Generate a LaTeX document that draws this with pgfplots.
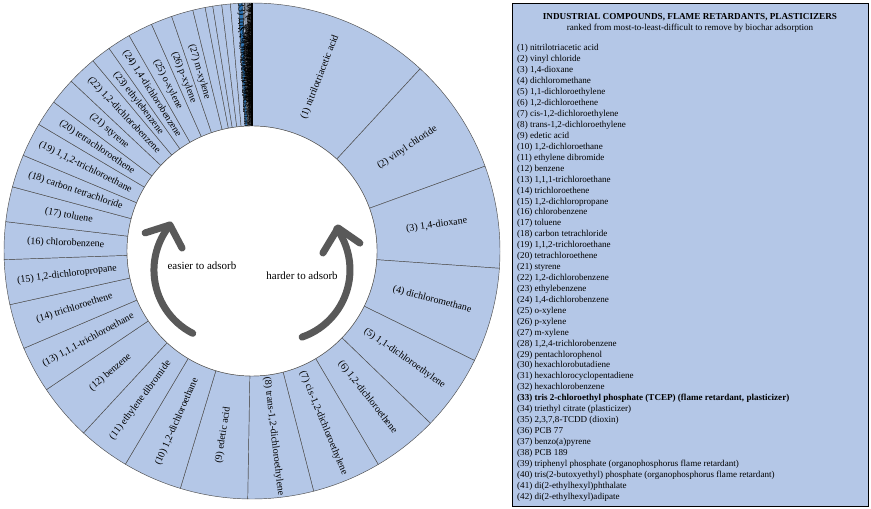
\documentclass[border=0pt]{standalone}
\usepackage{fontspec}
\setmainfont{Liberation Serif}
\usepackage{pgfplots}
\usepackage{pgfplotstable}
\pgfplotsset{compat=1.18}

\definecolor{segfill}{HTML}{B4C7E7}
\definecolor{tcepfill}{HTML}{2E75B6}
\definecolor{segedge}{HTML}{4D4D4D}
\definecolor{arrowgray}{HTML}{595959}

% share of the ring (degrees), clockwise from 12 o'clock
\pgfplotstableread[col sep=semicolon]{
share;fill;label
42.7;segfill;(1) nitrilotriacetic acid
27.3;segfill;(2) vinyl chloride
24.0;segfill;(3) 1,4-dioxane
22.2;segfill;(4) dichloromethane
17.8;segfill;(5) 1,1-dichloroethylene
15.4;segfill;(6) 1,2-dichloroethene
16.2;segfill;(7) cis-1,2-dichloroethylene
15.4;segfill;(8) trans-1,2-dichloroethylene
15.8;segfill;(9) edetic acid
13.9;segfill;(10) 1,2-dichloroethane
12.1;segfill;(11) ethylene dibromide
13.2;segfill;(12) benzene
10.9;segfill;(13) 1,1,1-trichloroethane
10.6;segfill;(14) trichloroethene
10.5;segfill;(15) 1,2-dichloropropane
8.8;segfill;(16) chlorobenzene
8.2;segfill;(17) toluene
7.7;segfill;(18) carbon tetrachloride
8.0;segfill;(19) 1,1,2-trichloroethane
6.2;segfill;(20) tetrachloroethene
6.3;segfill;(21) styrene
6.9;segfill;(22) 1,2-dichlorobenzene
4.7;segfill;(23) ethylebenzene
5.5;segfill;(24) 1,4-dichlorobenzene
5.8;segfill;(25) o-xylene
5.0;segfill;(26) p-xylene
5.1;segfill;(27) m-xylene
2.9;segfill;(28) 1,2,4-trichlorobenzene
1.8;segfill;(29) pentachlorophenol
2.1;segfill;(30) hexachlorobutadiene
2.0;segfill;(31) hexachlorocyclopentadiene
1.9;segfill;(32) hexachlorobenzene
1.0;tcepfill;(33) tris 2-chloroethyl phosphate
0.35;segfill;(34) triethyl citrate
0.3;segfill;(35) 2,3,7,8-TCDD
0.3;segfill;(36) PCB 77
0.25;segfill;(37) benzo(a)pyrene
0.2;segfill;(38) PCB 189
0.2;segfill;(39) triphenyl phosphate
0.2;segfill;(40) tris(2-butoxyethyl) phosphate
0.15;segfill;(41) di(2-ethylhexyl)phthalate
0.15;segfill;(42) di(2-ethylhexyl)adipate
}\rankdata

\newcommand\ringfont{\fontsize{10}{12}\selectfont}
\newcommand\legfont{\fontsize{9.1}{11}\selectfont}

\pgfplotstablegetrowsof{\rankdata}
\pgfmathtruncatemacro\lastrow{\pgfplotsretval-1}

% label of row #1, centred in its wedge, reading along the radius
\newcommand\ringlabel[1]{%
  \pgfplotstablegetelem{#1}{share}\of\rankdata \let\segshare\pgfplotsretval
  \pgfplotstablegetelem{#1}{label}\of\rankdata \let\segname\pgfplotsretval
  \pgfmathsetmacro\midcw{\cumang+\segshare/2}
  \pgfmathsetmacro\mA{90-\midcw}
  \pgfmathsetmacro\rot{\midcw<180 ? \mA : \mA+180}
  \pgfmathsetmacro\nextang{\cumang+\segshare}
  \xdef\cumang{\nextang}
  \edef\temp{\noexpand\node[rotate=\rot, font=\noexpand\ringfont, inner sep=0pt]
    at (axis cs:{0.752*cos(\mA)},{0.752*sin(\mA)}) {\segname};}%
  \temp
}

\begin{document}
\begin{tikzpicture}
\path[use as bounding box] (0,0) rectangle (871bp,509bp);

\begin{axis}[
    at={(252bp,258bp)}, anchor=center,
    scale only axis, width=496bp, height=496bp,
    xmin=-1, xmax=1, ymin=-1, ymax=1,
    hide axis, clip=false
  ]
  % wedges
  \gdef\cumang{0}
  \pgfplotsforeachungrouped \i in {0,...,\lastrow}{%
    \pgfplotstablegetelem{\i}{share}\of\rankdata \let\segshare\pgfplotsretval
    \pgfplotstablegetelem{\i}{fill}\of\rankdata \let\segcol\pgfplotsretval
    \pgfmathsetmacro\sA{90-\cumang}
    \pgfmathsetmacro\sB{90-\cumang-\segshare}
    \pgfmathsetmacro\nextang{\cumang+\segshare}
    \xdef\cumang{\nextang}
    \edef\temp{\noexpand\filldraw[fill=\segcol, draw=segedge, line width=0.45bp]
      (axis cs:{cos(\sA)},{sin(\sA)}) arc[start angle=\sA, end angle=\sB, radius=248bp]
      -- (axis cs:{0.504*cos(\sB)},{0.504*sin(\sB)})
      arc[start angle=\sB, end angle=\sA, radius=125bp] -- cycle;}%
    \temp
  }
  % labels of the wide wedges
  \gdef\cumang{0}
  \pgfplotsforeachungrouped \i in {0,...,26}{\ringlabel{\i}}
  % labels of the thin wedges pile up in the last sliver
  \begin{scope}
    \clip (axis cs:0,0) -- (axis cs:{cos(93.6)},{sin(93.6)})
      arc[start angle=93.6, end angle=90, radius=248bp] -- cycle;
    \pgfplotsforeachungrouped \i in {27,...,\lastrow}{\ringlabel{\i}}
  \end{scope}
  % closing edge, darkened by the many borders that meet there
  \draw[black, line width=2.2bp] (axis cs:0,0.504) -- (axis cs:0,1);
  % hole
  \filldraw[fill=white, draw=segedge, line width=0.45bp] (axis cs:0,0) circle[radius=125bp];

  % arrows
  \draw[arrowgray, line width=7bp, line cap=round]
    (axis cs:-0.239,-0.332) arc[start angle=243, end angle=141, radius=71bp];
  \draw[arrowgray, line width=7bp, line cap=round, line join=round]
    (axis cs:-0.431,0.073) -- (axis cs:-0.331,0.105) -- (axis cs:-0.282,0.012);
  \draw[arrowgray, line width=7bp, line cap=round]
    (axis cs:0.202,-0.347) arc[start angle=-71, end angle=35.4, radius=71bp];
  \draw[arrowgray, line width=7bp, line cap=round, line join=round]
    (axis cs:0.286,-0.008) -- (axis cs:0.347,0.093) -- (axis cs:0.435,0.032);

  \node[font=\fontsize{11}{13}\selectfont] at (axis cs:-0.202,-0.060) {easier to adsorb};
  \node[font=\fontsize{11}{13}\selectfont] at (axis cs:0.202,-0.101) {harder to adsorb};
\end{axis}

% legend box
\filldraw[fill=segfill, draw=black, line width=0.8bp] (512bp,3bp) rectangle (868bp,506bp);
\node[anchor=base, inner sep=0pt, font=\bfseries\fontsize{9.2}{11}\selectfont]
  at (690bp,489bp) {INDUSTRIAL COMPOUNDS, FLAME RETARDANTS, PLASTICIZERS};
\node[anchor=base, inner sep=0pt, font=\legfont]
  at (690bp,478bp) {ranked from most-to-least-difficult to remove by biochar adsorption};
\foreach \t [count=\k] in {
  {(1) nitrilotriacetic acid},
  {(2) vinyl chloride},
  {(3) 1,4-dioxane},
  {(4) dichloromethane},
  {(5) 1,1-dichloroethylene},
  {(6) 1,2-dichloroethene},
  {(7) cis-1,2-dichloroethylene},
  {(8) trans-1,2-dichloroethylene},
  {(9) edetic acid},
  {(10) 1,2-dichloroethane},
  {(11) ethylene dibromide},
  {(12) benzene},
  {(13) 1,1,1-trichloroethane},
  {(14) trichloroethene},
  {(15) 1,2-dichloropropane},
  {(16) chlorobenzene},
  {(17) toluene},
  {(18) carbon tetrachloride},
  {(19) 1,1,2-trichloroethane},
  {(20) tetrachloroethene},
  {(21) styrene},
  {(22) 1,2-dichlorobenzene},
  {(23) ethylebenzene},
  {(24) 1,4-dichlorobenzene},
  {(25) o-xylene},
  {(26) p-xylene},
  {(27) m-xylene},
  {(28) 1,2,4-trichlorobenzene},
  {(29) pentachlorophenol},
  {(30) hexachlorobutadiene},
  {(31) hexachlorocyclopentadiene},
  {(32) hexachlorobenzene},
  {\textbf{(33) tris 2-chloroethyl phosphate (TCEP) (flame retardant, plasticizer)}},
  {(34) triethyl citrate (plasticizer)},
  {(35) 2,3,7,8-TCDD (dioxin)},
  {(36) PCB 77},
  {(37) benzo(a)pyrene},
  {(38) PCB 189},
  {(39) triphenyl phosphate (organophosphorus flame retardant)},
  {(40) tris(2-butoxyethyl) phosphate (organophosphorus flame retardant)},
  {(41) di(2-ethylhexyl)phthalate},
  {(42) di(2-ethylhexyl)adipate}}{
  \node[anchor=base west, inner sep=0pt, font=\legfont]
    at (517bp, {458bp-(\k-1)*10.93bp}) {\t};
}
\end{tikzpicture}
\end{document}
